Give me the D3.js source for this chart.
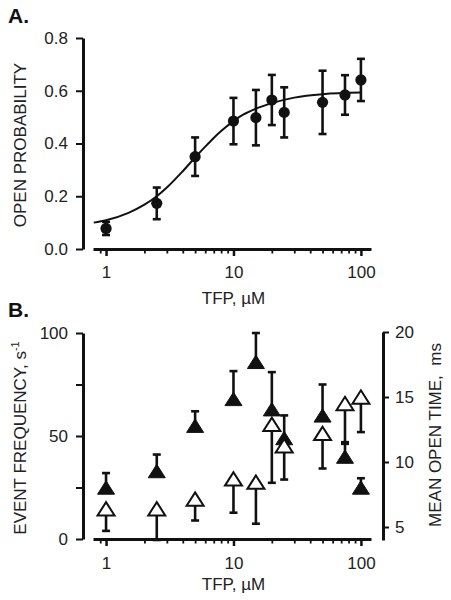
<!DOCTYPE html>
<html>
<head>
<meta charset="utf-8">
<script src="https://cdn.jsdelivr.net/npm/d3@7"></script>
<style>
  html, body { margin: 0; padding: 0; background: #fff; }
  svg { display: block; font-family: "Liberation Sans", Arial, sans-serif; }
</style>
</head>
<body>
<svg id="chart" width="451" height="600"></svg>
<script>
// ---------- DATA ----------
const concentrations = [1, 2.5, 5, 10, 15, 20, 25, 50, 75, 100];

// Panel A: open probability (mean ± error)
const openProbability = [0.078, 0.173, 0.350, 0.485, 0.498, 0.565, 0.518, 0.556, 0.584, 0.641];
const openProbabilityErr = [0.025, 0.060, 0.073, 0.088, 0.105, 0.095, 0.095, 0.120, 0.075, 0.080];

// Panel A: fitted curve
const fitX = [0.8, 1, 1.5, 2, 2.5, 3, 4, 5, 6, 7, 8, 10, 12, 15, 20, 30, 50, 100];
const fitY = [0.100, 0.109, 0.137, 0.168, 0.200, 0.233, 0.295, 0.347, 0.388, 0.421, 0.447, 0.485, 0.510, 0.532, 0.553, 0.574, 0.587, 0.593];

// Panel B: event frequency (filled triangles, left axis), upward error
const eventFrequency = [25, 33, 55, 68, 86, 63, 49, 60, 40, 25];
const eventFrequencyErr = [7, 8, 7, 13.5, 14, 18, 11, 15, 7, 4.5];

// Panel B: mean open time (open triangles, right axis), downward error
const meanOpenTime = [6.4, 6.4, 7.15, 8.7, 8.45, 12.9, 11.25, 12.2, 14.5, 15.0];
const meanOpenTimeErr = [1.7, 2.4, 1.65, 2.6, 3.2, 4.5, 2.6, 2.7, 3.1, 2.7];

// Axis ticks
const xMinorTicks = [0.9, 2, 3, 4, 5, 6, 7, 8, 9, 20, 30, 40, 50, 60, 70, 80, 90];
const xMajorTicks = [1, 10, 100];
const xTickLabels = ["1", "10", "100"];
const yTicksA = [0, 0.2, 0.4, 0.6, 0.8];
const yTickLabelsA = ["0.0", "0.2", "0.4", "0.6", "0.8"];
const yTicksBLeft = [0, 25, 50, 75, 100];
const yTickLabelsBLeft = ["0", "", "50", "", "100"];
const yTicksBRight = [5, 10, 15, 20];
const yTickLabelsBRight = ["5", "10", "15", "20"];

// ---------- DRAWING ----------
const svg = d3.select("#chart");
svg.append("rect").attr("width", 451).attr("height", 600).attr("fill", "#fff");

const INK = "#111";
const TXT = "#222";
const FS = 17;

function styleAxis(g, domainWidth) {
  g.select(".domain").attr("stroke", INK).attr("stroke-width", domainWidth);
  g.selectAll(".tick line").attr("stroke", INK).attr("stroke-width", 2);
  g.selectAll(".tick text").attr("fill", TXT).attr("font-size", FS)
    .attr("font-family", "Liberation Sans, Arial, sans-serif");
}

function xAxes(xScale, yPos, labelPad) {
  const minor = svg.append("g").attr("transform", `translate(0,${yPos})`)
    .call(d3.axisBottom(xScale).tickValues(xMinorTicks).tickSize(4.5).tickSizeOuter(0).tickFormat(""));
  minor.select(".domain").remove();
  minor.selectAll(".tick line").attr("stroke", INK).attr("stroke-width", 1.8);
  const major = svg.append("g").attr("transform", `translate(0,${yPos})`)
    .call(d3.axisBottom(xScale).tickValues(xMajorTicks).tickSize(7).tickSizeOuter(0)
      .tickPadding(labelPad).tickFormat((d, i) => xTickLabels[i]));
  styleAxis(major, 3);
  major.selectAll(".tick line").attr("stroke-width", 2.5);
}

// ===== Panel A =====
const xA = d3.scaleLog().domain([0.79, 120]).range([93, 371]);
const yA = d3.scaleLinear().domain([0, 0.8]).range([249, 38]);

const yAxisA = svg.append("g").attr("transform", "translate(83,0)")
  .call(d3.axisLeft(yA).tickValues(yTicksA).tickSize(7).tickSizeOuter(0).tickPadding(8)
    .tickFormat((d, i) => yTickLabelsA[i]));
styleAxis(yAxisA, 3);
xAxes(xA, 249, 10);

svg.append("text").attr("x", 8).attr("y", 23).attr("font-size", 21).attr("font-weight", "bold")
  .attr("fill", INK).text("A.");
svg.append("text").attr("transform", "translate(26,145) rotate(-90)").attr("text-anchor", "middle")
  .attr("font-size", FS).attr("fill", TXT).text("OPEN PROBABILITY");
svg.append("text").attr("x", xA(10)).attr("y", 304).attr("text-anchor", "middle")
  .attr("font-size", FS).attr("fill", TXT).text("TFP, \u00B5M");

// fitted curve
const fitData = fitX.map((x, i) => ({ x, y: fitY[i] }));
svg.append("path").datum(fitData)
  .attr("d", d3.line().x(d => xA(d.x)).y(d => yA(d.y)).curve(d3.curveMonotoneX))
  .attr("fill", "none").attr("stroke", INK).attr("stroke-width", 2);

const dataA = concentrations.map((c, i) => ({ c, v: openProbability[i], e: openProbabilityErr[i] }));
const capW = 4;
const ebA = svg.append("g").attr("stroke", INK).attr("stroke-width", 2.6).attr("fill", "none");
dataA.forEach(d => {
  const x = xA(d.c), y1 = yA(d.v + d.e), y2 = yA(d.v - d.e);
  ebA.append("line").attr("x1", x).attr("x2", x).attr("y1", y1).attr("y2", y2);
  ebA.append("line").attr("x1", x - capW).attr("x2", x + capW).attr("y1", y1).attr("y2", y1);
  ebA.append("line").attr("x1", x - capW).attr("x2", x + capW).attr("y1", y2).attr("y2", y2);
});
svg.append("g").selectAll("circle").data(dataA).join("circle")
  .attr("cx", d => xA(d.c)).attr("cy", d => yA(d.v)).attr("r", 5.6).attr("fill", INK);

// ===== Panel B =====
const xB = d3.scaleLog().domain([0.79, 120]).range([93, 371]);
const yBL = d3.scaleLinear().domain([0, 100]).range([539, 333]);
const yBR = d3.scaleLinear().domain([4, 20]).range([540, 332]);

const yAxisBL = svg.append("g").attr("transform", "translate(83,0)")
  .call(d3.axisLeft(yBL).tickValues(yTicksBLeft).tickSize(7).tickSizeOuter(0).tickPadding(8)
    .tickFormat((d, i) => yTickLabelsBLeft[i]));
styleAxis(yAxisBL, 3);
const yAxisBR = svg.append("g").attr("transform", "translate(383,0)")
  .call(d3.axisRight(yBR).tickValues(yTicksBRight).tickSize(6).tickSizeOuter(0).tickPadding(6)
    .tickFormat((d, i) => yTickLabelsBRight[i]));
styleAxis(yAxisBR, 3);
xAxes(xB, 539, 11);

svg.append("text").attr("x", 8).attr("y", 317).attr("font-size", 21).attr("font-weight", "bold")
  .attr("fill", INK).text("B.");
const lblL = svg.append("text").attr("transform", "translate(26,438) rotate(-90)").attr("text-anchor", "middle")
  .attr("font-size", FS).attr("fill", TXT);
lblL.append("tspan").text("EVENT FREQUENCY, s");
lblL.append("tspan").attr("font-size", 11).attr("dy", -7).text("-1");
svg.append("text").attr("transform", "translate(441,435) rotate(-90)").attr("text-anchor", "middle")
  .attr("font-size", FS).attr("fill", TXT).style("white-space", "pre").text("MEAN OPEN TIME,  ms");
svg.append("text").attr("x", xB(10)).attr("y", 590).attr("text-anchor", "middle")
  .attr("font-size", FS).attr("fill", TXT).text("TFP, \u00B5M");

const triW = 8.5, triH = 6.7;
function triPath(x, y) {
  return `M${x},${y - triH}L${x + triW},${y + triH}L${x - triW},${y + triH}Z`;
}

const freqData = concentrations.map((c, i) => ({ c, v: eventFrequency[i], e: eventFrequencyErr[i] }));
const timeData = concentrations.map((c, i) => ({ c, v: meanOpenTime[i], e: meanOpenTimeErr[i] }));

const ebB = svg.append("g").attr("stroke", INK).attr("stroke-width", 2.6).attr("fill", "none");
freqData.forEach(d => {
  const x = xB(d.c), y0 = yBL(d.v), y1 = yBL(d.v + d.e);
  ebB.append("line").attr("x1", x).attr("x2", x).attr("y1", y0).attr("y2", y1);
  ebB.append("line").attr("x1", x - capW).attr("x2", x + capW).attr("y1", y1).attr("y2", y1);
});
timeData.forEach(d => {
  const x = xB(d.c), y0 = yBR(d.v), y1 = yBR(d.v - d.e);
  ebB.append("line").attr("x1", x).attr("x2", x).attr("y1", y0).attr("y2", y1);
  ebB.append("line").attr("x1", x - capW).attr("x2", x + capW).attr("y1", y1).attr("y2", y1);
});

svg.append("g").selectAll("path").data(freqData).join("path")
  .attr("d", d => triPath(xB(d.c), yBL(d.v))).attr("fill", INK).attr("stroke", INK)
  .attr("stroke-width", 1).attr("stroke-linejoin", "miter");
svg.append("g").selectAll("path").data(timeData).join("path")
  .attr("d", d => triPath(xB(d.c), yBR(d.v))).attr("fill", "#fff").attr("stroke", INK)
  .attr("stroke-width", 2).attr("stroke-linejoin", "miter");
</script>
</body>
</html>
